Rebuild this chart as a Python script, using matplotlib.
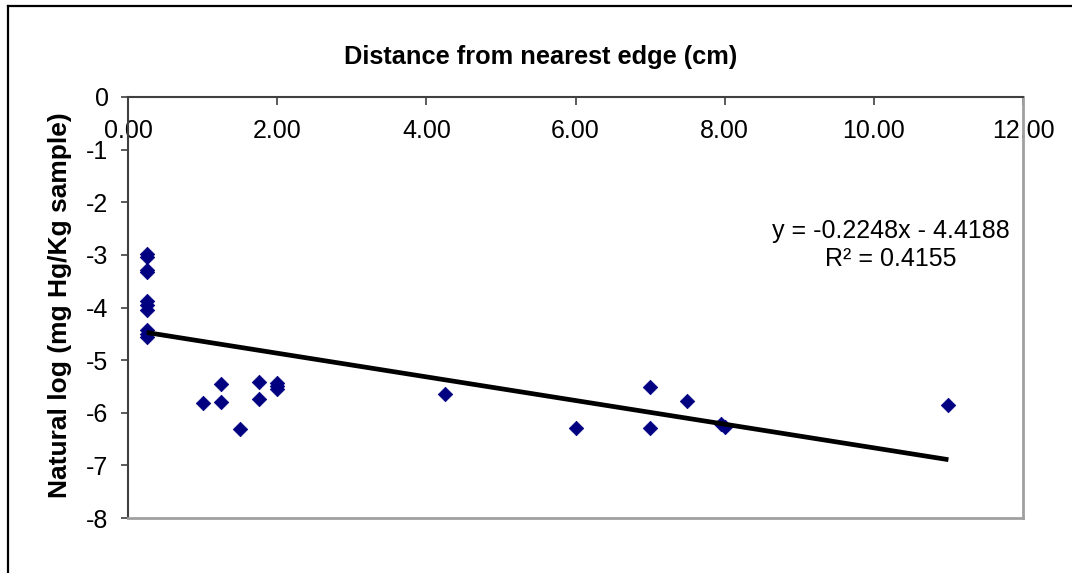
import matplotlib
matplotlib.use("Agg")
import matplotlib.pyplot as plt
from matplotlib.lines import Line2D
import numpy as np

plt.rcParams['font.family'] = ['Liberation Sans', 'DejaVu Sans']

# Data
distance_cm = [0.25, 0.25, 0.25, 0.25, 0.25, 0.25, 0.25, 0.25, 0.25, 0.25,
               1.0, 1.25, 1.25, 1.5, 1.75, 1.75, 2.0, 2.0, 2.0,
               4.25, 6.0, 7.0, 7.0, 7.5, 7.95, 8.0, 11.0]
ln_hg = [-2.99, -3.04, -3.29, -3.33, -3.87, -3.95, -4.05, -4.43, -4.51, -4.57,
         -5.82, -5.46, -5.80, -6.30, -5.42, -5.74, -5.44, -5.50, -5.55,
         -5.65, -6.29, -5.51, -6.29, -5.77, -6.22, -6.27, -5.86]
trend_slope = -0.2248
trend_intercept = -4.4188
r_squared = 0.4155
x_ticks = [0, 2, 4, 6, 8, 10, 12]
x_tick_labels = ["0.00", "2.00", "4.00", "6.00", "8.00", "10.00", "12.00"]
y_ticks = [0, -1, -2, -3, -4, -5, -6, -7, -8]
y_tick_labels = ["0", "-1", "-2", "-3", "-4", "-5", "-6", "-7", "-8"]

W, H = 1072, 573
fig = plt.figure(figsize=(W / 100, H / 100), dpi=100)
fig.patch.set_facecolor('white')

ax_left, ax_right, ax_top, ax_bottom = 128, 1023, 97, 518
ax = fig.add_axes([ax_left / W, 1 - ax_bottom / H,
                   (ax_right - ax_left) / W, (ax_bottom - ax_top) / H])

ax.scatter(distance_cm, ln_hg, marker='D', s=7.4 ** 2, color='#000080',
           edgecolors='#000080', linewidths=0.5, zorder=3)

xs = np.array([min(distance_cm), max(distance_cm)])
ax.plot(xs, trend_slope * xs + trend_intercept, color='black', lw=3.4,
        solid_capstyle='butt', zorder=4)

ax.set_xlim(0, 12)
ax.set_ylim(-8, 0)
ax.set_xticks(x_ticks)
ax.set_xticklabels(x_tick_labels)
ax.set_yticks(y_ticks)
ax.set_yticklabels(y_tick_labels)

ax.tick_params(axis='x', top=True, bottom=False, labeltop=True, labelbottom=False,
               direction='in', length=6, width=1.2, color='#404040',
               pad=-33, labelsize=18)
ax.tick_params(axis='y', direction='out', length=5, width=1.2, color='#404040',
               pad=9, labelsize=18)

ax.spines['top'].set_color('#404040')
ax.spines['top'].set_linewidth(1.5)
ax.spines['left'].set_color('#404040')
ax.spines['left'].set_linewidth(1.5)
ax.spines['right'].set_color('#a0a0a0')
ax.spines['right'].set_linewidth(2)
ax.spines['bottom'].set_color('#a0a0a0')
ax.spines['bottom'].set_linewidth(2)

fig.text(541 / W, 1 - 57 / H, "Distance from nearest edge (cm)",
         ha='center', va='center', fontsize=18.3, fontweight='bold')
fig.text(60 / W, 1 - 305 / H, "Natural log (mg Hg/Kg sample)",
         ha='center', va='center', rotation=90, fontsize=19, fontweight='bold')

eq_x = (891 - ax_left) / (ax_right - ax_left)
ax.text(eq_x, (ax_bottom - 231) / (ax_bottom - ax_top),
        f"y = {trend_slope:.4f}x - {abs(trend_intercept):.4f}",
        transform=ax.transAxes, ha='center', va='center', fontsize=18)
ax.text(eq_x, (ax_bottom - 259) / (ax_bottom - ax_top),
        f"R\u00b2 = {r_squared:.4f}",
        transform=ax.transAxes, ha='center', va='center', fontsize=18)

# Outer chart frame (cropped at right and bottom)
fig.add_artist(Line2D([8 / W, 8 / W], [1 - 6 / H, 0], transform=fig.transFigure,
                      color='black', lw=1.6))
fig.add_artist(Line2D([8 / W, 1], [1 - 6 / H, 1 - 6 / H], transform=fig.transFigure,
                      color='black', lw=1.6))

fig.savefig("out.png", dpi=100)
